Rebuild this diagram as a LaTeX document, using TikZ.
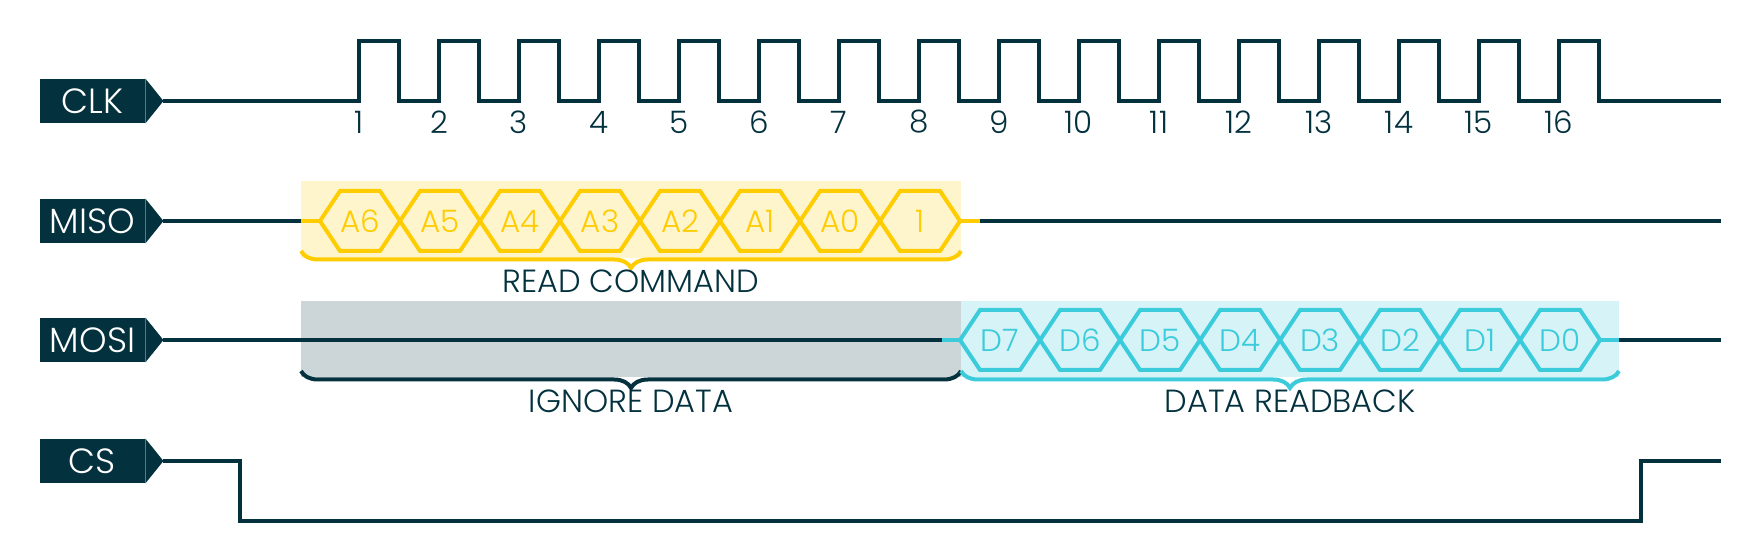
\documentclass[tikz,border=0pt]{standalone}
\usepackage{fontspec}
\IfFontExistsTF{Poppins Light}{\setmainfont{Poppins Light}}{\setmainfont{Poppins}}
\usetikzlibrary{calc,decorations.pathreplacing}
\definecolor{busdark}{HTML}{03313E}
\definecolor{busyellow}{HTML}{FFCC00}
\definecolor{busyellowbg}{HTML}{FFF5CC}
\definecolor{buscyan}{HTML}{3CCBDA}
\definecolor{buscyanbg}{HTML}{D6F4F8}
\definecolor{busgray}{HTML}{CCD5D8}
\tikzset{
every picture/.style={line join=miter},
sig line/.style={draw=busdark,line width=2pt},
tag box/.style={fill=busdark,text=white,minimum width=52.5pt,minimum height=22pt,inner sep=0pt,
  font=\fontsize{17.5}{19}\selectfont},
tick label/.style={text=busdark,font=\fontsize{15.5}{17}\selectfont},
miso hex/.style={draw=busyellow,line width=2pt},
mosi hex/.style={draw=buscyan,line width=2pt},
miso bit/.style={text=busyellow,font=\fontsize{15.5}{17}\selectfont},
mosi bit/.style={text=buscyan,font=\fontsize{15.5}{17}\selectfont},
group brace/.style={decorate,decoration={brace,mirror,amplitude=8.5pt},line width=2pt},
group label/.style={text=busdark,font=\fontsize{16}{18}\selectfont}
}
\begin{document}
\begin{tikzpicture}[x=0.5pt,y=-0.5pt]
\useasboundingbox (0,0) rectangle (1760,560);
% highlighted areas
\fill[busyellowbg] (301,181) rectangle (961,258);
\fill[busgray] (301,301) rectangle (961,377);
\fill[buscyanbg] (961,301) rectangle (1619,377);
% signal tags
\foreach \nm/\yy in {CLK/101,MISO/221,MOSI/340,CS/461} {
  \node[tag box] (\nm) at (92.5,\yy) {\nm};
  \coordinate (\nm-tip) at ($(\nm.east)+(18,0)$);
  \fill[busdark] (\nm.north east) -- (\nm-tip) -- (\nm.south east) -- cycle;
}
% clock
\draw[sig line] (CLK-tip) -- (359,101)
  \foreach \i in {0,...,15} { -- ({359+80*\i},41) -- ({399+80*\i},41) -- ({399+80*\i},101) -- ({439+80*\i},101) }
  -- (1721,101);
\foreach \i in {1,...,16}
  \node[tick label] (tick\i) at ({359+80*(\i-1)},122) {\i};
% MISO
\draw[sig line] (MISO-tip) -- (301,221);
\draw[miso hex] (301,221) -- (320,221);
\foreach \lbl [count=\k from 0] in {A6,A5,A4,A3,A2,A1,A0,1} {
  \draw[miso hex] ({320+80*\k},221) -- ++(20,-30) -- ++(40,0) -- ++(20,30) -- ++(-20,30) -- ++(-40,0) -- cycle;
  \node[miso bit] (cmd\k) at ({360+80*\k},221) {\lbl};
}
\draw[miso hex] (960,221) -- (980,221);
\draw[sig line] (980,221) -- (1721,221);
\draw[group brace,draw=busyellow] (301,251) -- (961,251);
\node[group label] (readcmd) at (631,281) {READ COMMAND};
% MOSI
\draw[sig line] (MOSI-tip) -- (942,340);
\draw[mosi hex] (942,340) -- (960,340);
\foreach \lbl [count=\k from 0] in {D7,D6,D5,D4,D3,D2,D1,D0} {
  \draw[mosi hex] ({960+80*\k},340) -- ++(20,-30) -- ++(40,0) -- ++(20,30) -- ++(-20,30) -- ++(-40,0) -- cycle;
  \node[mosi bit] (data\k) at ({1000+80*\k},340) {\lbl};
}
\draw[mosi hex] (1600,340) -- (1619,340);
\draw[sig line] (1619,340) -- (1721,340);
\draw[group brace,draw=busdark] (301,371) -- (961,371);
\node[group label] (ignore) at (631,401) {IGNORE DATA};
\draw[group brace,draw=buscyan] (961,371) -- (1619,371);
\node[group label] (readback) at (1290,401) {DATA READBACK};
% chip select
\draw[sig line] (CS-tip) -- (240,461) -- (240,521) -- (1641,521) -- (1641,461) -- (1721,461);
\end{tikzpicture}
\end{document}
